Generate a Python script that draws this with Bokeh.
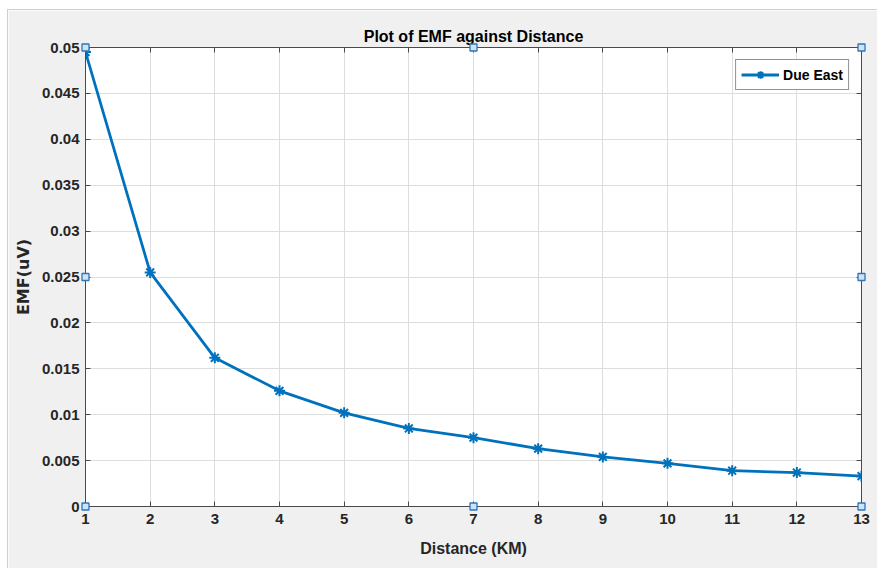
from bokeh.plotting import figure
from bokeh.models import FixedTicker, LinearAxis, Range1d
from bokeh.embed import file_html
from bokeh.resources import INLINE

# ---- data ----
distance_km = [1, 2, 3, 4, 5, 6, 7, 8, 9, 10, 11, 12, 13]
emf_uv = [0.0495, 0.0255, 0.0162, 0.0126, 0.0102, 0.0085, 0.0075, 0.0063,
          0.0054, 0.0047, 0.0039, 0.0037, 0.0033]
x_ticks = [1, 2, 3, 4, 5, 6, 7, 8, 9, 10, 11, 12, 13]
y_ticks = [0, 0.005, 0.01, 0.015, 0.02, 0.025, 0.03, 0.035, 0.04, 0.045, 0.05]
y_tick_labels = ["0", "0.005", "0.01", "0.015", "0.02", "0.025", "0.03",
                 "0.035", "0.04", "0.045", "0.05"]
x_limits = [1, 13]
y_limits = [0, 0.05]
series_name = "Due East"
title_text = "Plot of EMF against Distance"
x_label = "Distance (KM)"
y_label = "EMF(uV)"

FONT = "'Liberation Sans', Arial, sans-serif"
AX = "#4a4a4a"
TXT = "#262626"
BLUE = "#0072BD"
BG = "#f0f0f0"

p = figure(width=870, height=559, output_backend="svg", toolbar_location=None,
           x_range=Range1d(*x_limits), y_range=Range1d(*y_limits),
           x_axis_location=None, y_axis_location=None,
           min_border_left=77, min_border_right=17, min_border_top=37,
           min_border_bottom=63,
           background_fill_color="white", border_fill_color=BG,
           outline_line_color=AX, margin=(9, 0, 0, 7),
           styles={"border-top": "1px solid #cfcfcf", "border-left": "1px solid #cfcfcf"})

p.title.text = title_text
p.title.align = "center"
p.title.text_font = FONT
p.title.text_font_size = "16px"
p.title.text_font_style = "bold"
p.title.text_color = "black"
p.title.standoff = 6

def make_axis(ticks, overrides=None, show=True):
    ax = LinearAxis(ticker=FixedTicker(ticks=ticks))
    ax.axis_line_color = AX
    ax.major_tick_line_color = AX
    ax.major_tick_in = 5
    ax.major_tick_out = 0
    ax.minor_tick_line_color = None
    ax.major_label_text_font = FONT
    ax.major_label_text_font_style = "bold"
    ax.major_label_text_font_size = "15px"
    if show:
        ax.major_label_text_color = TXT
        ax.major_label_standoff = 7
    else:
        ax.major_label_text_color = None
        ax.major_label_standoff = 0
    if overrides:
        ax.major_label_overrides = overrides
    return ax

y_over = {t: s for t, s in zip(y_ticks, y_tick_labels)}
x_over = {t: str(t) for t in x_ticks}

xb = make_axis(x_ticks, x_over)
xb.axis_label = x_label
xb.axis_label_text_font = FONT
xb.axis_label_text_font_style = "bold"
xb.axis_label_text_font_size = "16px"
xb.axis_label_text_color = TXT
xb.axis_label_standoff = 13
p.add_layout(xb, "below")

yl = make_axis(y_ticks, y_over)
yl.major_label_standoff = 6
yl.axis_label = y_label
yl.axis_label_text_font = "'DejaVu Sans', sans-serif"
yl.axis_label_text_font_style = "bold"
yl.axis_label_text_font_size = "16px"
yl.axis_label_text_color = TXT
yl.axis_label_standoff = 6
p.add_layout(yl, "left")

p.add_layout(make_axis(x_ticks, show=False), "above")
p.add_layout(make_axis(y_ticks, show=False), "right")

p.xgrid.ticker = FixedTicker(ticks=x_ticks)
p.ygrid.ticker = FixedTicker(ticks=y_ticks)
for g in (p.xgrid, p.ygrid):
    g.grid_line_color = "#dedede"
    g.grid_line_width = 1

p.line(distance_km, emf_uv, line_color=BLUE, line_width=2.8, legend_label=series_name)
p.scatter(distance_km, emf_uv, marker="asterisk", size=11, line_color=BLUE,
          line_width=2, legend_label=series_name)

# selection handles at the axes corners and midpoints (derived from the limits)
xm = (x_limits[0] + x_limits[1]) / 2
ym = (y_limits[0] + y_limits[1]) / 2
hx = [x_limits[0], xm, x_limits[1], x_limits[0], x_limits[1], x_limits[0], xm, x_limits[1]]
hy = [y_limits[1], y_limits[1], y_limits[1], ym, ym, y_limits[0], y_limits[0], y_limits[0]]
p.scatter(hx, hy, marker="square", size=7, fill_color="#cfe3f5",
          line_color="#2e75b6", line_width=1.3, level="overlay")

lg = p.legend[0]
lg.location = "top_right"
lg.margin = 12
lg.padding = 5
lg.spacing = 0
lg.glyph_width = 38
lg.glyph_height = 19
lg.label_height = 19
lg.label_standoff = 4
lg.label_text_font = FONT
lg.label_text_font_style = "bold"
lg.label_text_font_size = "14px"
lg.label_text_color = "black"
lg.border_line_color = TXT
lg.border_line_width = 1
lg.background_fill_color = "white"
lg.background_fill_alpha = 1

open("out.html", "w").write(file_html(p, INLINE))
